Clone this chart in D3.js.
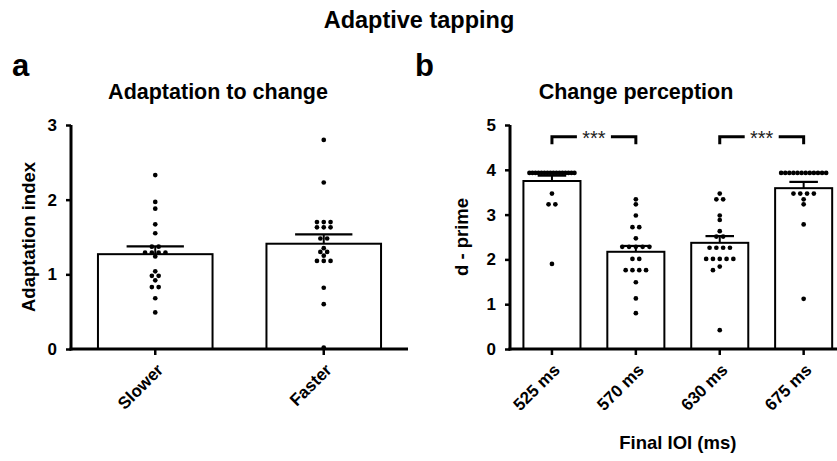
<!DOCTYPE html>
<html><head><meta charset="utf-8">
<script src="https://cdn.jsdelivr.net/npm/d3@7"></script>
<style>
body{margin:0;background:#fff}
svg{display:block}
text{font-family:"Liberation Sans",Arial,Helvetica,sans-serif;font-weight:bold;fill:#000}
</style>
</head><body>
<svg id="chart" width="837" height="461"></svg>
<script>
// ---------------- data ----------------
const chartTitle = "Adaptive tapping";
const panelLetters = ["a", "b"];
const panelTitles = ["Adaptation to change", "Change perception"];
const yTitles = ["Adaptation index", "d - prime"];
const xTitleB = "Final IOI (ms)";

const catsA = ["Slower", "Faster"];
const meanA = [1.27, 1.41];
const semA = [0.105, 0.125];
const ptsSlower = [2.33, 1.97, 1.88, 1.67, 1.55, 1.37, 1.37, 1.29, 1.29, 1.29, 1.29, 1.24, 1.04, 0.98, 0.98, 0.92, 0.83, 0.83, 0.68, 0.49];
const ptsFaster = [2.80, 2.23, 1.70, 1.70, 1.70, 1.63, 1.63, 1.63, 1.48, 1.48, 1.35, 1.30, 1.30, 1.25, 1.18, 1.18, 1.18, 0.82, 0.60, 0.02];
const ticksA = [0, 1, 2, 3];

const catsB = ["525 ms", "570 ms", "630 ms", "675 ms"];
const meanB = [3.75, 2.17, 2.37, 3.59];
const semB = [0.12, 0.13, 0.15, 0.14];
const pts525 = [3.93, 3.93, 3.93, 3.93, 3.93, 3.93, 3.93, 3.93, 3.93, 3.93, 3.93, 3.93, 3.93, 3.93, 3.93, 3.93, 3.47, 3.23, 3.23, 1.90];
const pts570 = [3.34, 3.23, 2.98, 2.72, 2.72, 2.47, 2.28, 2.28, 2.28, 2.28, 2.28, 2.01, 2.01, 1.76, 1.76, 1.76, 1.76, 1.49, 1.13, 0.80];
const pts630 = [3.47, 3.34, 3.34, 2.98, 2.88, 2.63, 2.51, 2.51, 2.26, 2.26, 2.26, 2.26, 2.01, 2.01, 2.01, 2.01, 2.01, 1.84, 1.76, 0.42];
const pts675 = [3.93, 3.93, 3.93, 3.93, 3.93, 3.93, 3.93, 3.93, 3.93, 3.93, 3.93, 3.93, 3.47, 3.47, 3.47, 3.47, 3.34, 3.23, 2.78, 1.12];
const ticksB = [0, 1, 2, 3, 4, 5];

const sigPairs = [["525 ms", "570 ms"], ["630 ms", "675 ms"]];
const sigLabels = ["***", "***"];
const sigLevel = 4.74;
const sigDrop = 4.57;

// ---------------- drawing ----------------
const svg = d3.select("#chart");

svg.append("text").attr("x", 419).attr("y", 28).attr("text-anchor", "middle")
  .style("font-size", "23.5px").text(chartTitle);

function dodge(values, y, cx, s, r, maxW) {
  const groups = d3.groups(values, v => v).sort((a, b) => b[0] - a[0]);
  const placed = [];
  groups.forEach(([v, arr]) => {
    const n = arr.length, py = y(v);
    if (n === 1) {
      const cands = [0, -s, s, -2 * s, 2 * s, -3 * s, 3 * s];
      let chosen = 0;
      for (const c of cands) {
        const ok = placed.every(p => Math.hypot(p.x - (cx + c), p.y - py) >= 2 * r * 0.95);
        if (ok) { chosen = c; break; }
      }
      placed.push({x: cx + chosen, y: py});
    } else {
      const sp = Math.min(s, maxW / (n - 1));
      for (let i = 0; i < n; i++) placed.push({x: cx + (i - (n - 1) / 2) * sp, y: py});
    }
  });
  return placed;
}

function panel(opts) {
  const {x, y, cats, means, sems, pts, ticks, yTitle, yTitleX, letterX, title, titleX} = opts;
  const g = svg.append("g");
  const bw = x.bandwidth() * 0.68;
  const capW = bw * 0.5;

  g.selectAll("rect.bar").data(cats).join("rect")
    .attr("x", d => x(d) + x.bandwidth() / 2 - bw / 2)
    .attr("y", (d, i) => y(means[i]))
    .attr("width", bw)
    .attr("height", (d, i) => y(0) - y(means[i]))
    .attr("fill", "#fff").attr("stroke", "#000").attr("stroke-width", 2);

  cats.forEach((c, i) => {
    const cx = x(c) + x.bandwidth() / 2;
    const p = dodge(pts[i], y, cx, 6.8, 2.35, 45);
    g.selectAll(null).data(p).join("circle")
      .attr("cx", d => d.x).attr("cy", d => d.y).attr("r", 2.35).attr("fill", "#000");
  });

  cats.forEach((c, i) => {
    const cx = x(c) + x.bandwidth() / 2;
    g.append("line").attr("x1", cx).attr("x2", cx)
      .attr("y1", y(means[i])).attr("y2", y(means[i] + sems[i]))
      .attr("stroke", "#000").attr("stroke-width", 2);
    g.append("line").attr("x1", cx - capW / 2).attr("x2", cx + capW / 2)
      .attr("y1", y(means[i] + sems[i])).attr("y2", y(means[i] + sems[i]))
      .attr("stroke", "#000").attr("stroke-width", 2.2);
  });

  const ya = g.append("g").attr("transform", `translate(${x.range()[0]},0)`)
    .call(d3.axisLeft(y).tickValues(ticks).tickFormat(d3.format("d")).tickSize(5).tickSizeOuter(0).tickPadding(9));
  ya.select(".domain").attr("stroke-width", 3).attr("d", `M0,${y.range()[1]}V${y(0) + 1.5}`);
  ya.selectAll(".tick line").attr("stroke-width", 2.5);
  ya.selectAll(".tick text").style("font-size", "17px").style("font-family", null);

  const xa = g.append("g").attr("transform", `translate(0,${y(0)})`)
    .call(d3.axisBottom(x).tickSize(6).tickSizeOuter(0));
  xa.select(".domain").attr("stroke-width", 3).attr("d", `M${x.range()[0] - 1.5},0H${x.range()[1]}`);
  xa.selectAll(".tick line").attr("stroke-width", 2.5);
  xa.selectAll(".tick text").style("font-size", "17px").style("font-family", null)
    .attr("x", 0).attr("y", 0).attr("dy", 0)
    .attr("text-anchor", "end")
    .attr("transform", "translate(9,22) rotate(-45)");
  g.selectAll(".domain, .tick line").attr("stroke", "#000");

  g.append("text").attr("x", yTitleX).attr("y", (y.range()[0] + y.range()[1]) / 2)
    .attr("transform", `rotate(-90,${yTitleX},${(y.range()[0] + y.range()[1]) / 2})`)
    .attr("text-anchor", "middle").style("font-size", "18.5px").text(yTitle);
  g.append("text").attr("x", letterX).attr("y", 76).style("font-size", "31px").text(opts.letter);
  g.append("text").attr("x", titleX).attr("y", 99).attr("text-anchor", "middle")
    .style("font-size", "21.5px").text(title);
  return g;
}

const yA = d3.scaleLinear().domain([0, 3]).range([349, 125]);
const xA = d3.scaleBand().domain(catsA).range([71, 408]).padding(0);
panel({x: xA, y: yA, cats: catsA, means: meanA, sems: semA, pts: [ptsSlower, ptsFaster],
  ticks: ticksA, yTitle: yTitles[0], yTitleX: 35, letter: panelLetters[0], letterX: 12,
  title: panelTitles[0], titleX: 218});

const yB = d3.scaleLinear().domain([0, 5]).range([349, 125]);
const xB = d3.scaleBand().domain(catsB).range([510, 845.6]).padding(0);
const gB = panel({x: xB, y: yB, cats: catsB, means: meanB, sems: semB, pts: [pts525, pts570, pts630, pts675],
  ticks: ticksB, yTitle: yTitles[1], yTitleX: 468, letter: panelLetters[1], letterX: 415,
  title: panelTitles[1], titleX: 636});

gB.append("text").attr("x", (xB.range()[0] + xB.range()[1]) / 2).attr("y", 449)
  .attr("text-anchor", "middle").style("font-size", "18.5px").text(xTitleB);

sigPairs.forEach(([a, b], i) => {
  const x1 = xB(a) + xB.bandwidth() / 2, x2 = xB(b) + xB.bandwidth() / 2;
  const mid = (x1 + x2) / 2, gap = 17;
  const yl = yB(sigLevel), yd = yB(sigDrop);
  gB.append("path").attr("d", `M${x1},${yd}V${yl}H${mid - gap}`)
    .attr("fill", "none").attr("stroke", "#000").attr("stroke-width", 3);
  gB.append("path").attr("d", `M${mid + gap},${yl}H${x2}V${yd}`)
    .attr("fill", "none").attr("stroke", "#000").attr("stroke-width", 3);
  gB.append("text").attr("x", mid).attr("y", yl + 8).attr("text-anchor", "middle")
    .style("font-size", "20px").style("font-weight", "normal").style("fill", "#222").text(sigLabels[i]);
});
</script>
</body></html>
